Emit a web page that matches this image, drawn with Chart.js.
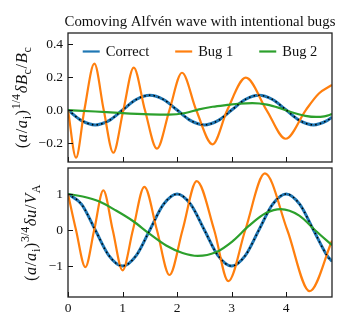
<!DOCTYPE html>
<html>
<head>
<meta charset="utf-8">
<script src="https://cdn.jsdelivr.net/npm/chart.js@4.4.1/dist/chart.umd.min.js"></script>
<style>
  html, body { margin: 0; padding: 0; background: #ffffff; }
  #wrap { position: relative; width: 342px; height: 314px; }
  .panel { position: absolute; left: 0; width: 342px; }
  #top-panel { top: 0; height: 164px; }
  #bottom-panel { top: 164px; height: 150px; }
</style>
</head>
<body>
<div id="wrap">
  <div class="panel" id="top-panel"><canvas id="chart-top"></canvas></div>
  <div class="panel" id="bottom-panel"><canvas id="chart-bottom"></canvas></div>
</div>
<script>
var titleText = "Comoving Alfv\u00e9n wave with intentional bugs";
var seriesNames = ["Correct", "Bug 1", "Bug 2"];

var tickX = [0, 1, 2, 3, 4];
var tickYTop = [-0.2, 0, 0.2, 0.4];
var tickYBottom = [-1, 0, 1];

// correct solution, read at quarter steps
var xCorrect = [0, 0.25, 0.5, 0.75, 1, 1.25, 1.5, 1.75, 2, 2.25, 2.5, 2.75, 3, 3.25, 3.5, 3.75, 4, 4.25, 4.5, 4.75, 4.84];
var correctB = [0, -0.064, -0.09, -0.064, 0, 0.064, 0.09, 0.064, 0, -0.064, -0.09, -0.064, 0, 0.064, 0.09, 0.064, 0, -0.064, -0.09, -0.064, -0.043];
var correctU = [1, 0.71, 0, -0.71, -1, -0.71, 0, 0.71, 1, 0.71, 0, -0.71, -1, -0.71, 0, 0.71, 1, 0.71, 0, -0.71, -0.87];

// bug 1
var xBug1B = [0, 0.147, 0.3, 0.483, 0.655, 0.83, 1.015, 1.205, 1.41, 1.63, 1.86, 2.09, 2.35, 2.65, 2.92, 3.26, 3.64, 3.99, 4.36, 4.6, 4.84];
var bug1B = [0, -0.289, 0, 0.281, 0, -0.259, 0, 0.257, 0, -0.234, 0, 0.226, 0, -0.208, 0, 0.196, 0, -0.174, 0, 0.1, 0.152];
var xBug1U = [0, 0.147, 0.318, 0.48, 0.648, 0.82, 1.0, 1.19, 1.4, 1.63, 1.86, 2.1, 2.36, 2.68, 2.94, 3.25, 3.61, 4.02, 4.43, 4.84];
var bug1U = [1, 0, -1.03, 0, 1.1, 0, -1.12, 0, 1.2, 0, -1.25, 0, 1.36, 0, -1.42, 0, 1.57, 0, -1.7, -0.3];

// bug 2
var xBug2B = [0, 0.5, 1.0, 1.5, 1.85, 2.15, 2.4, 2.65, 2.92, 3.15, 3.38, 3.65, 3.9, 4.1, 4.35, 4.55, 4.7, 4.84];
var bug2B = [0, -0.009, -0.019, -0.026, -0.028, -0.018, 0.004, 0.02, 0.031, 0.039, 0.042, 0.033, 0.01, -0.013, -0.035, -0.042, -0.038, -0.025];
var xBug2U = [0, 0.27, 0.575, 0.88, 1.19, 1.49, 1.8, 2.1, 2.38, 2.71, 3.01, 3.32, 3.63, 3.9, 4.24, 4.54, 4.84];
var bug2U = [1, 0.93, 0.79, 0.54, 0.25, -0.1, -0.43, -0.64, -0.72, -0.62, -0.32, 0.12, 0.47, 0.58, 0.4, -0.02, -0.42];

var labelTop = [["(", "r"], ["a", "i"], ["/", "r"], ["a", "i"], ["i", "sub"], [")", "r"], ["1/4", "sup"],
  ["\u03b4", "i"], ["B", "i"], ["c", "sub"], ["/", "r"], ["B", "i"], ["c", "sub"]];
var labelBottom = [["(", "r"], ["a", "i"], ["/", "r"], ["a", "i"], ["i", "sub"], [")", "r"], ["3/4", "sup"],
  ["\u03b4", "i"], ["u", "i"], ["/", "r"], ["V", "i"], ["A", "sub"]];

var SERIF = '"Liberation Serif", "DejaVu Serif", serif';
var palette = ["#1f77b4", "#ff7f0e", "#2ca02c"];

function toPoints(xs, ys) {
  return xs.map(function (x, i) {
    return { x: x, y: ys[i] };
  });
}

function partFont(style, size) {
  if (style === "i") {
    return "italic " + size + "px " + SERIF;
  }
  if (style === "sub" || style === "sup") {
    return Math.round(size * 0.7) + "px " + SERIF;
  }
  return size + "px " + SERIF;
}

function drawRich(ctx, parts, size, cx, cy) {
  var total = 0;
  var widths = parts.map(function (p) {
    ctx.font = partFont(p[1], size);
    var w = ctx.measureText(p[0]).width + 0.6;
    total += w;
    return w;
  });
  ctx.save();
  ctx.translate(cx, cy);
  ctx.rotate(-Math.PI / 2);
  ctx.fillStyle = "#111";
  ctx.textBaseline = "alphabetic";
  ctx.textAlign = "left";
  var pos = -total / 2;
  parts.forEach(function (p, i) {
    ctx.font = partFont(p[1], size);
    var dy = 0;
    if (p[1] === "sub") dy = size * 0.25;
    if (p[1] === "sup") dy = -size * 0.42;
    ctx.fillText(p[0], pos, dy);
    pos += widths[i];
  });
  ctx.restore();
}

var panelDecor = {
  id: "panelDecor",
  afterDatasetsDraw: function (chart, args, opts) {
    var ctx = chart.ctx;
    var area = chart.chartArea;
    var xScale = chart.scales.x;
    var yScale = chart.scales.y;

    ctx.save();
    ctx.strokeStyle = "#111";
    ctx.lineWidth = 1;
    ctx.beginPath();
    xScale.ticks.forEach(function (t) {
      var px = Math.round(xScale.getPixelForValue(t.value)) + 0.5;
      ctx.moveTo(px, area.bottom);
      ctx.lineTo(px, area.bottom - 5);
    });
    yScale.ticks.forEach(function (t) {
      var py = Math.round(yScale.getPixelForValue(t.value)) + 0.5;
      ctx.moveTo(area.left, py);
      ctx.lineTo(area.left + 5, py);
    });
    ctx.stroke();

    ctx.lineWidth = 1.3;
    ctx.strokeStyle = "#222";
    ctx.strokeRect(area.left, area.top, area.right - area.left, area.bottom - area.top);
    ctx.restore();

    drawRich(ctx, opts.label, 16.5, opts.labelX, (area.top + area.bottom) / 2);

    if (opts.title) {
      ctx.save();
      ctx.font = "14.8px " + SERIF;
      ctx.fillStyle = "#111";
      ctx.textAlign = "center";
      ctx.textBaseline = "alphabetic";
      ctx.fillText(opts.title, (area.left + area.right) / 2, 26);
      ctx.restore();
    }

    if (opts.legend) {
      ctx.save();
      ctx.font = "14.5px " + SERIF;
      var items = seriesNames.map(function (name) {
        return chart.data.datasets.filter(function (d) {
          return d.inLegend && d.label === name;
        })[0];
      });
      var handle = 17;
      var gapText = 6;
      var gapItem = 26;
      var total = 0;
      var widths = items.map(function (d) {
        var w = ctx.measureText(d.label).width;
        total += handle + gapText + w;
        return w;
      });
      total += gapItem * (items.length - 1);
      var x = (area.left + area.right) / 2 - total / 2;
      var y = area.top + 18.5;
      items.forEach(function (d, i) {
        ctx.strokeStyle = d.borderColor;
        ctx.lineWidth = 2.2;
        ctx.beginPath();
        ctx.moveTo(x, y);
        ctx.lineTo(x + handle, y);
        ctx.stroke();
        ctx.fillStyle = "#111";
        ctx.textBaseline = "middle";
        ctx.fillText(d.label, x + handle + gapText, y + 0.5);
        x += handle + gapText + widths[i] + gapItem;
      });
      ctx.restore();
    }
  }
};

function buildDatasets(xc, yc, x1, y1, x2, y2) {
  var common = {
    pointRadius: 0,
    fill: false,
    cubicInterpolationMode: "monotone",
    clip: 0
  };
  return [
    Object.assign({}, common, {
      label: "dots",
      data: toPoints(xc, yc),
      borderColor: "#000000",
      borderWidth: 1.5,
      borderDash: [1.5, 3.2],
      order: 0
    }),
    Object.assign({}, common, {
      label: seriesNames[2],
      inLegend: true,
      data: toPoints(x2, y2),
      borderColor: palette[2],
      borderWidth: 2.2,
      order: 1
    }),
    Object.assign({}, common, {
      label: seriesNames[1],
      inLegend: true,
      data: toPoints(x1, y1),
      borderColor: palette[1],
      borderWidth: 2.2,
      order: 2
    }),
    Object.assign({}, common, {
      label: seriesNames[0],
      inLegend: true,
      data: toPoints(xc, yc),
      borderColor: palette[0],
      borderWidth: 3,
      order: 3
    })
  ];
}

function buildOptions(cfg) {
  return {
    responsive: true,
    maintainAspectRatio: false,
    animation: false,
    layout: { padding: { left: 0, right: 10, top: cfg.padTop, bottom: cfg.padBottom } },
    plugins: {
      legend: { display: false },
      tooltip: { enabled: false },
      panelDecor: {
        label: cfg.label,
        labelX: cfg.labelX,
        title: cfg.title,
        legend: cfg.legend
      }
    },
    scales: {
      x: {
        type: "linear",
        min: 0,
        max: 4.84,
        grid: { display: false, drawTicks: false },
        border: { display: false },
        afterBuildTicks: function (scale) {
          scale.ticks = tickX.map(function (v) {
            return { value: v };
          });
        },
        afterFit: function (scale) {
          scale.height = cfg.xHeight;
          scale.paddingLeft = 0;
          scale.paddingRight = 0;
          scale.paddingTop = 0;
          scale.paddingBottom = 0;
        },
        ticks: {
          display: cfg.showX,
          padding: 3,
          color: "#111",
          font: { family: SERIF, size: 13.5 },
          callback: function (v) {
            return String(v);
          }
        }
      },
      y: {
        type: "linear",
        min: cfg.yMin,
        max: cfg.yMax,
        grid: { display: false, drawTicks: false },
        border: { display: false },
        afterBuildTicks: function (scale) {
          scale.ticks = cfg.yTicks.map(function (v) {
            return { value: v };
          });
        },
        afterFit: function (scale) {
          scale.width = 68;
          scale.paddingLeft = 0;
          scale.paddingRight = 0;
          scale.paddingTop = 0;
          scale.paddingBottom = 0;
        },
        ticks: {
          padding: 5,
          color: "#111",
          font: { family: SERIF, size: 13.5 },
          callback: cfg.yFormat
        }
      }
    }
  };
}

new Chart(document.getElementById("chart-top"), {
  type: "line",
  data: { datasets: buildDatasets(xCorrect, correctB, xBug1B, bug1B, xBug2B, bug2B) },
  options: buildOptions({
    padTop: 33,
    padBottom: 2,
    xHeight: 0,
    showX: false,
    yMin: -0.315,
    yMax: 0.467,
    yTicks: tickYTop,
    yFormat: function (v) {
      return v.toFixed(1).replace("-", "\u2212");
    },
    label: labelTop,
    labelX: 27,
    title: titleText,
    legend: true
  }),
  plugins: [panelDecor]
});

new Chart(document.getElementById("chart-bottom"), {
  type: "line",
  data: { datasets: buildDatasets(xCorrect, correctU, xBug1U, bug1U, xBug2U, bug2U) },
  options: buildOptions({
    padTop: 4,
    padBottom: 0,
    xHeight: 17,
    showX: true,
    yMin: -1.861,
    yMax: 1.722,
    yTicks: tickYBottom,
    yFormat: function (v) {
      return String(v).replace("-", "\u2212");
    },
    label: labelBottom,
    labelX: 36,
    title: null,
    legend: false
  }),
  plugins: [panelDecor]
});
</script>
</body>
</html>
